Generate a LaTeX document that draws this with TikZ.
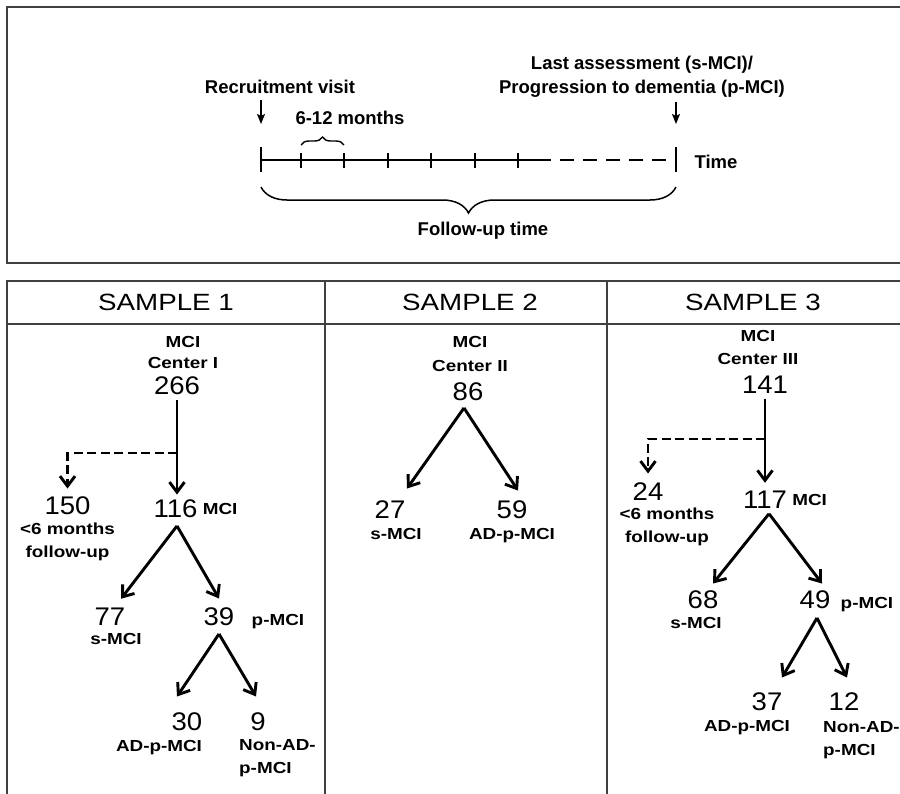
\documentclass[tikz,border=0pt]{standalone}
\usepackage{fontspec}
\setmainfont{Liberation Sans}
\newfontfamily\widesans[FakeStretch=1.18]{Liberation Sans}
\newfontfamily\numsans[FakeStretch=1.08]{Liberation Sans}
\usetikzlibrary{arrows.meta,calc,decorations.pathreplacing,positioning}

\tikzstyle{toptext} = [font=\fontsize{18.5}{22}\selectfont\bfseries,
  inner sep=0pt, anchor=base]
\tikzstyle{samplehead} = [font=\widesans\fontsize{23.5}{27}\selectfont,
  inner sep=0pt, anchor=base]
\tikzstyle{cnt} = [font=\numsans\fontsize{25.5}{29}\selectfont,
  inner sep=0pt, anchor=base]
\tikzstyle{lbl} = [font=\widesans\bfseries\fontsize{16}{23}\selectfont,
  inner sep=0pt, anchor=base]
\tikzstyle{cellframe} = [line width=1.3pt, black!75]
\tikzstyle{notch} = [line width=2.2pt]
\tikzstyle{visitarrow} = [line width=1.5pt,
  -{Stealth[length=10pt,width=8pt,inset=2pt]}]
\tikzstyle{branch} = [line width=2.9pt,
  -{Straight Barb[length=10pt,width=15pt]}]
\tikzstyle{dropout} = [branch, dash pattern=on 9pt off 4.5pt]
\tikzstyle{smallbrace} = [line width=1.4pt, decorate,
  decoration={brace,amplitude=8pt}]
\tikzstyle{bigbrace} = [line width=1.5pt, decorate,
  decoration={brace,amplitude=26pt}]

\begin{document}
\begin{tikzpicture}[x=1pt,y=-1pt]
    \useasboundingbox (0,0) rectangle (900,793);
    \clip (0,0) rectangle (900,793);

    % follow-up scheme
    \draw[cellframe] (7,7) rectangle (920,263);
    \coordinate (t0) at (261,160);
    \coordinate (tsolid) at (537,160);
    \coordinate (tend) at (676,160);
    \draw[notch] (t0) -- (tsolid);
    \draw[notch, dash pattern=on 14pt off 9pt] (tsolid) -- (tend);
    \draw[notch] (261,147) -- (261,172);
    \draw[notch] (676,147) -- (676,172);
    \foreach \x in {301,344,388,431,475,518}
      \draw[notch] (\x,153) -- (\x,168);

    \node[toptext] (recruit) at (280,93.5) {Recruitment visit};
    \node[toptext] (lasta) at (642,69.5) {Last assessment (s-MCI)/};
    \node[toptext] (lastb) at (642,93.5) {Progression to dementia (p-MCI)};
    \node[toptext] (months) at (350,124.5) {6-12 months};
    \node[toptext] (timelbl) at (716,168.5) {Time};
    \node[toptext] (follow) at (483,235.5) {Follow-up time};

    \draw[visitarrow] ($(recruit.south -| t0)+(0,6)$) -- ($(t0)+(0,-36)$);
    \draw[visitarrow] ($(lastb.south -| tend)+(0,4)$) -- ($(tend)+(0,-36)$);

    \draw[smallbrace] (301,145) -- (344,145);
    \draw[bigbrace] (676,187) -- (261,187);

    % table of samples
    \draw[cellframe] (7,281) rectangle (920,820);
    \draw[cellframe] (7,324) -- (920,324);
    \draw[cellframe] (325,281) -- (325,820);
    \draw[cellframe] (607,281) -- (607,820);

    \node[samplehead] (s1) at (166,310.4) {SAMPLE 1};
    \node[samplehead] (s2) at (470,310.4) {SAMPLE 2};
    \node[samplehead] (s3) at (753,310.4) {SAMPLE 3};

    % sample 1
    \node[lbl] (s1mci) at (183,347.7) {MCI};
    \node[lbl] (s1ctr) at (183,368.7) {Center I};
    \node[cnt] (n266) at (177,394) {266};
    \node[cnt] (n150) at (67.5,514.5) {150};
    \node[cnt] (n116) at (175.5,517.5) {116};
    \node[lbl, right=5pt of n116] (s1mcib) {MCI};
    \node[lbl, below=8pt of n150, align=center] (s1lost) {<6 months\\follow-up};
    \node[cnt] (n77) at (110,625.5) {77};
    \node[lbl, below=7pt of n77, xshift=6pt] (s1smci) {s-MCI};
    \node[cnt] (n39) at (219,625.5) {39};
    \node[lbl, right=17pt of n39, yshift=-5pt] (s1pmci) {p-MCI};
    \node[cnt] (n30) at (187,730.5) {30};
    \node[lbl, below=9pt of n30, xshift=-28pt] (s1ad) {AD-p-MCI};
    \node[cnt] (n9) at (258,730.5) {9};
    \node[lbl, align=left, anchor=north west] (s1nonad) at (239,739.3)
    {Non-AD-\\p-MCI};

    \coordinate (s1split) at (n266.south |- 0,453);
    \draw[branch] ($(n266.south)+(0,6)$) -- ($(n266.south |- n116.north)+(0,-5)$);
    \draw[dropout] (s1split) -| ($(n150.north)+(0,-8)$);
    \draw[branch] ($(n116.south)+(1.5,8)$) -- ($(n77.north)+(11,-9)$);
    \draw[branch] ($(n116.south)+(1.5,8)$) -- ($(n39.north)+(0,-9)$);
    \draw[branch] ($(n39.south)+(0,8)$) -- ($(n30.north)+(-10,-16)$);
    \draw[branch] ($(n39.south)+(0,8)$) -- ($(n9.north)+(-2,-16)$);

    % sample 2
    \node[lbl] (s2mci) at (470,347.7) {MCI};
    \node[lbl] (s2ctr) at (470,371) {Center II};
    \node[cnt] (n86) at (468,400.5) {86};
    \node[cnt] (n27) at (390,518.5) {27};
    \node[lbl, below=9pt of n27, xshift=6pt] (s2smci) {s-MCI};
    \node[cnt] (n59) at (512,518.5) {59};
    \node[lbl, below=9pt of n59] (s2ad) {AD-p-MCI};

    \draw[branch] ($(n86.south)+(-4,7)$) -- ($(n27.north)+(17,-12)$);
    \draw[branch] ($(n86.south)+(-4,7)$) -- ($(n59.north)+(6,-10)$);

    % sample 3
    \node[lbl] (s3mci) at (758,341.7) {MCI};
    \node[lbl] (s3ctr) at (758,364.2) {Center III};
    \node[cnt] (n141) at (765,393.5) {141};
    \node[cnt] (n24) at (648,500.5) {24};
    \node[cnt] (n117) at (765,508.5) {117};
    \node[lbl, right=5pt of n117] (s3mcib) {MCI};
    \node[lbl, below=7pt of n24, xshift=19pt, align=center] (s3lost) {<6 months\\follow-up};
    \node[cnt] (n68) at (703,608.5) {68};
    \node[lbl, below=8pt of n68, xshift=-7pt] (s3smci) {s-MCI};
    \node[cnt] (n49) at (815,608.5) {49};
    \node[lbl, right=10pt of n49, yshift=-5pt] (s3pmci) {p-MCI};
    \node[cnt] (n37) at (767,710.5) {37};
    \node[lbl, below=9pt of n37, xshift=-20pt] (s3ad) {AD-p-MCI};
    \node[cnt] (n12) at (844,710.5) {12};
    \node[lbl, align=left, anchor=north west] (s3nonad) at (823,721.3)
    {Non-AD-\\p-MCI};

    \coordinate (s3split) at (n141.south |- 0,439);
    \draw[branch] ($(n141.south)+(0,5)$) -- ($(n141.south |- n117.north)+(0,-8)$);
    \draw[dropout] (s3split) -| ($(n24.north)+(0,-9)$);
    \draw[branch] ($(n117.south)+(4,5)$) -- ($(n68.north)+(10,-7)$);
    \draw[branch] ($(n117.south)+(4,5)$) -- ($(n49.north)+(7,-7)$);
    \draw[branch] ($(n49.south)+(2,9)$) -- ($(n37.north)+(15,-15)$);
    \draw[branch] ($(n49.south)+(2,9)$) -- ($(n12.north)+(3,-15)$);

  \end{tikzpicture}
\end{document}
